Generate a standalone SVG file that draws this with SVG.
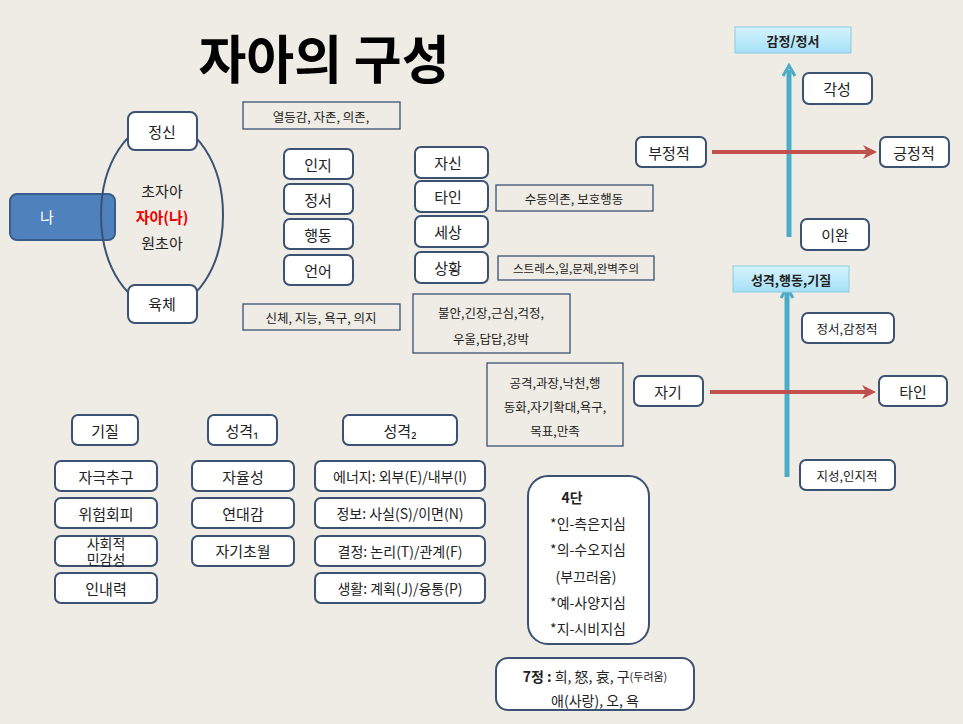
<svg xmlns="http://www.w3.org/2000/svg" width="963" height="724" viewBox="0 0 963 724">
<defs>
<linearGradient id="cy" x1="0" y1="0" x2="0" y2="1"><stop offset="0" stop-color="#d6f3fc"/><stop offset="1" stop-color="#a5e1f7"/></linearGradient>
<marker id="ab" viewBox="0 0 10 10" refX="5" refY="5" markerWidth="3" markerHeight="3" orient="auto"><path d="M1,1 L8,5 L1,9" fill="none" stroke="#4bacc6" stroke-width="2"/></marker>
<marker id="ar" viewBox="0 0 10 10" refX="5" refY="5" markerWidth="3.5" markerHeight="3.5" orient="auto"><path d="M0,0 L10,5 L0,10 L3,5 Z" fill="#c0504d"/></marker>
<style>
text{font-family:"Noto Sans CJK KR","Noto Sans",sans-serif;fill:#222;text-anchor:middle;dominant-baseline:central}
.b rect{fill:#fff;stroke:#3b5272;stroke-width:2}
.n{fill:none;stroke:#3b5272;stroke-width:1.3}
.t{font-size:15px}
.s{font-size:12.5px}
.c rect{fill:url(#cy);stroke:#8ccbe0;stroke-width:1}
</style>
</defs>
<rect width="963" height="724" fill="#eeece4"/>
<text x="324" y="56" style="font-size:52px;font-weight:bold;fill:#000">자아의 구성</text>

<g id="connectors">
<line x1="789" y1="237" x2="789" y2="70" stroke="#4bacc6" stroke-width="5" marker-end="url(#ab)"/>
<line x1="712" y1="152" x2="870" y2="152" stroke="#c0504d" stroke-width="4" marker-end="url(#ar)"/>
<line x1="787" y1="477" x2="787" y2="292" stroke="#4bacc6" stroke-width="5" marker-end="url(#ab)"/>
<line x1="710" y1="392" x2="869" y2="392" stroke="#c0504d" stroke-width="4" marker-end="url(#ar)"/>
</g>

<g id="na"><rect x="10" y="194" width="105" height="46" rx="7" fill="#4f81bd" stroke="#385d8a" stroke-width="2"/><text x="47" y="216" class="t" style="fill:#fff">나</text></g>
<g id="self"><ellipse cx="162" cy="215" rx="61" ry="93" fill="none" stroke="#3b5272" stroke-width="2"/>
<text x="162" y="190" class="t">초자아</text><text x="162" y="216" class="t" style="fill:#e00;font-weight:bold">자아(나)</text><text x="162" y="242" class="t">원초아</text></g>
<g id="jeongsin" class="b"><rect x="128" y="112" width="69" height="38" rx="7"/><text x="162" y="131" class="t">정신</text></g>
<g id="yukche" class="b"><rect x="128" y="285" width="69" height="38" rx="7"/><text x="162" y="303" class="t">육체</text></g>

<g id="n1"><rect x="243" y="102" width="157" height="27" class="n"/><text x="321" y="116" class="s">열등감, 자존, 의존,</text></g>
<g id="n2"><rect x="243" y="304" width="157" height="26" class="n"/><text x="321" y="317" class="s">신체, 지능, 욕구, 의지</text></g>
<g id="n3"><rect x="496" y="185" width="157" height="26" class="n"/><text x="574" y="198" class="s">수동의존, 보호행동</text></g>
<g id="n4"><rect x="498" y="256" width="156" height="24" class="n"/><text x="576" y="268" style="font-size:11.5px">스트레스,일,문제,완벽주의</text></g>
<g id="n5"><rect x="413" y="294" width="157" height="59" class="n"/><text x="491" y="312" class="s">불안,긴장,근심,걱정,</text><text x="491" y="338" class="s">우울,답답,강박</text></g>
<g id="n6"><rect x="487" y="363" width="136" height="83" class="n"/><text x="555" y="382" class="s">공격,과장,낙천,행</text><text x="555" y="406" class="s">동화,자기확대,욕구,</text><text x="555" y="430" class="s">목표,만족</text></g>

<g class="b">
<g id="inji"><rect x="284" y="149" width="69" height="30" rx="6"/><text x="318" y="164" class="t">인지</text></g>
<g id="jeongseo"><rect x="284" y="184" width="69" height="30" rx="6"/><text x="318" y="199" class="t">정서</text></g>
<g id="haengdong"><rect x="284" y="219" width="69" height="30" rx="6"/><text x="318" y="234" class="t">행동</text></g>
<g id="eoneo"><rect x="284" y="255" width="69" height="30" rx="6"/><text x="318" y="270" class="t">언어</text></g>
<g id="jasin"><rect x="415" y="147" width="73" height="31" rx="6"/><text x="448" y="162" class="t">자신</text></g>
<g id="tain1"><rect x="415" y="181" width="73" height="31" rx="6"/><text x="448" y="196" class="t">타인</text></g>
<g id="sesang"><rect x="415" y="216" width="73" height="31" rx="6"/><text x="448" y="231" class="t">세상</text></g>
<g id="sanghwang"><rect x="415" y="252" width="73" height="31" rx="6"/><text x="448" y="267" class="t">상황</text></g>

<g id="gakseong"><rect x="803" y="73" width="69" height="31" rx="6"/><text x="837" y="88" class="t">각성</text></g>
<g id="bujeong"><rect x="636" y="137" width="70" height="30" rx="6"/><text x="669" y="152" class="t">부정적</text></g>
<g id="geungjeong"><rect x="880" y="137" width="69" height="30" rx="6"/><text x="914" y="152" class="t">긍정적</text></g>
<g id="iwan"><rect x="801" y="219" width="68" height="31" rx="6"/><text x="835" y="234" class="t">이완</text></g>
<g id="jeongseo2"><rect x="802" y="313" width="92" height="30" rx="6"/><text x="847" y="328" class="s">정서,감정적</text></g>
<g id="jagi"><rect x="634" y="376" width="69" height="30" rx="6"/><text x="668" y="391" class="t">자기</text></g>
<g id="tain2"><rect x="879" y="376" width="68" height="30" rx="6"/><text x="913" y="391" class="t">타인</text></g>
<g id="jiseong"><rect x="800" y="460" width="95" height="30" rx="6"/><text x="847" y="475" class="s">지성,인지적</text></g>

<g id="gijil"><rect x="72" y="415" width="66" height="30" rx="6"/><text x="105" y="430" class="t">기질</text></g>
<g id="seong1"><rect x="208" y="415" width="69" height="30" rx="6"/><text x="242" y="430" class="t">성격₁</text></g>
<g id="seong2"><rect x="343" y="415" width="114" height="30" rx="6"/><text x="400" y="430" class="t">성격₂</text></g>
<g id="g1"><rect x="55" y="461" width="102" height="30" rx="6"/><text x="106" y="476" class="t">자극추구</text></g>
<g id="g2"><rect x="55" y="498" width="102" height="30" rx="6"/><text x="106" y="513" class="t">위험회피</text></g>
<g id="g3"><rect x="55" y="536" width="102" height="30" rx="6"/><text x="106" y="543" style="font-size:14px">사회적</text><text x="106" y="559" style="font-size:14px">민감성</text></g>
<g id="g4"><rect x="55" y="573" width="102" height="30" rx="6"/><text x="106" y="588" class="t">인내력</text></g>
<g id="p1"><rect x="192" y="461" width="102" height="30" rx="6"/><text x="243" y="476" class="t">자율성</text></g>
<g id="p2"><rect x="192" y="498" width="102" height="30" rx="6"/><text x="243" y="513" class="t">연대감</text></g>
<g id="p3"><rect x="192" y="536" width="102" height="30" rx="6"/><text x="243" y="550" class="t">자기초월</text></g>
<g id="m1"><rect x="315" y="461" width="170" height="30" rx="6"/><text x="400" y="476" style="font-size:14px">에너지: 외부(E)/내부(I)</text></g>
<g id="m2"><rect x="315" y="498" width="170" height="30" rx="6"/><text x="400" y="513" style="font-size:14px">정보: 사실(S)/이면(N)</text></g>
<g id="m3"><rect x="315" y="536" width="170" height="30" rx="6"/><text x="400" y="551" style="font-size:14px">결정: 논리(T)/관계(F)</text></g>
<g id="m4"><rect x="315" y="573" width="170" height="30" rx="6"/><text x="400" y="588" style="font-size:14px">생활: 계획(J)/융통(P)</text></g>

<g id="sadan"><rect x="528" y="476" width="121" height="168" rx="20"/>
<text x="572" y="497" style="font-size:14px;font-weight:bold">4단</text>
<text x="588" y="523" style="font-size:14px">*인-측은지심</text>
<text x="588" y="549" style="font-size:14px">*의-수오지심</text>
<text x="586" y="576" style="font-size:14px">(부끄러움)</text>
<text x="588" y="602" style="font-size:14px">*예-사양지심</text>
<text x="588" y="628" style="font-size:14px">*지-시비지심</text></g>
<g id="chiljeong"><rect x="496" y="658" width="198" height="52" rx="12"/>
<text x="595" y="676" style="font-size:14px"><tspan font-weight="bold">7정 : </tspan>희, 怒, 哀, 구<tspan style="font-size:11px">(두려움)</tspan></text>
<text x="595" y="700" style="font-size:14px">애(사랑), 오, 욕</text></g>
</g>

<g id="c1" class="c"><rect x="735" y="27" width="116" height="26"/><text x="793" y="40" style="font-size:13px;font-weight:bold">감정/정서</text></g>
<g id="c2" class="c"><rect x="733" y="266" width="116" height="26"/><text x="791" y="279" style="font-size:13px;font-weight:bold">성격,행동,기질</text></g>
</svg>
